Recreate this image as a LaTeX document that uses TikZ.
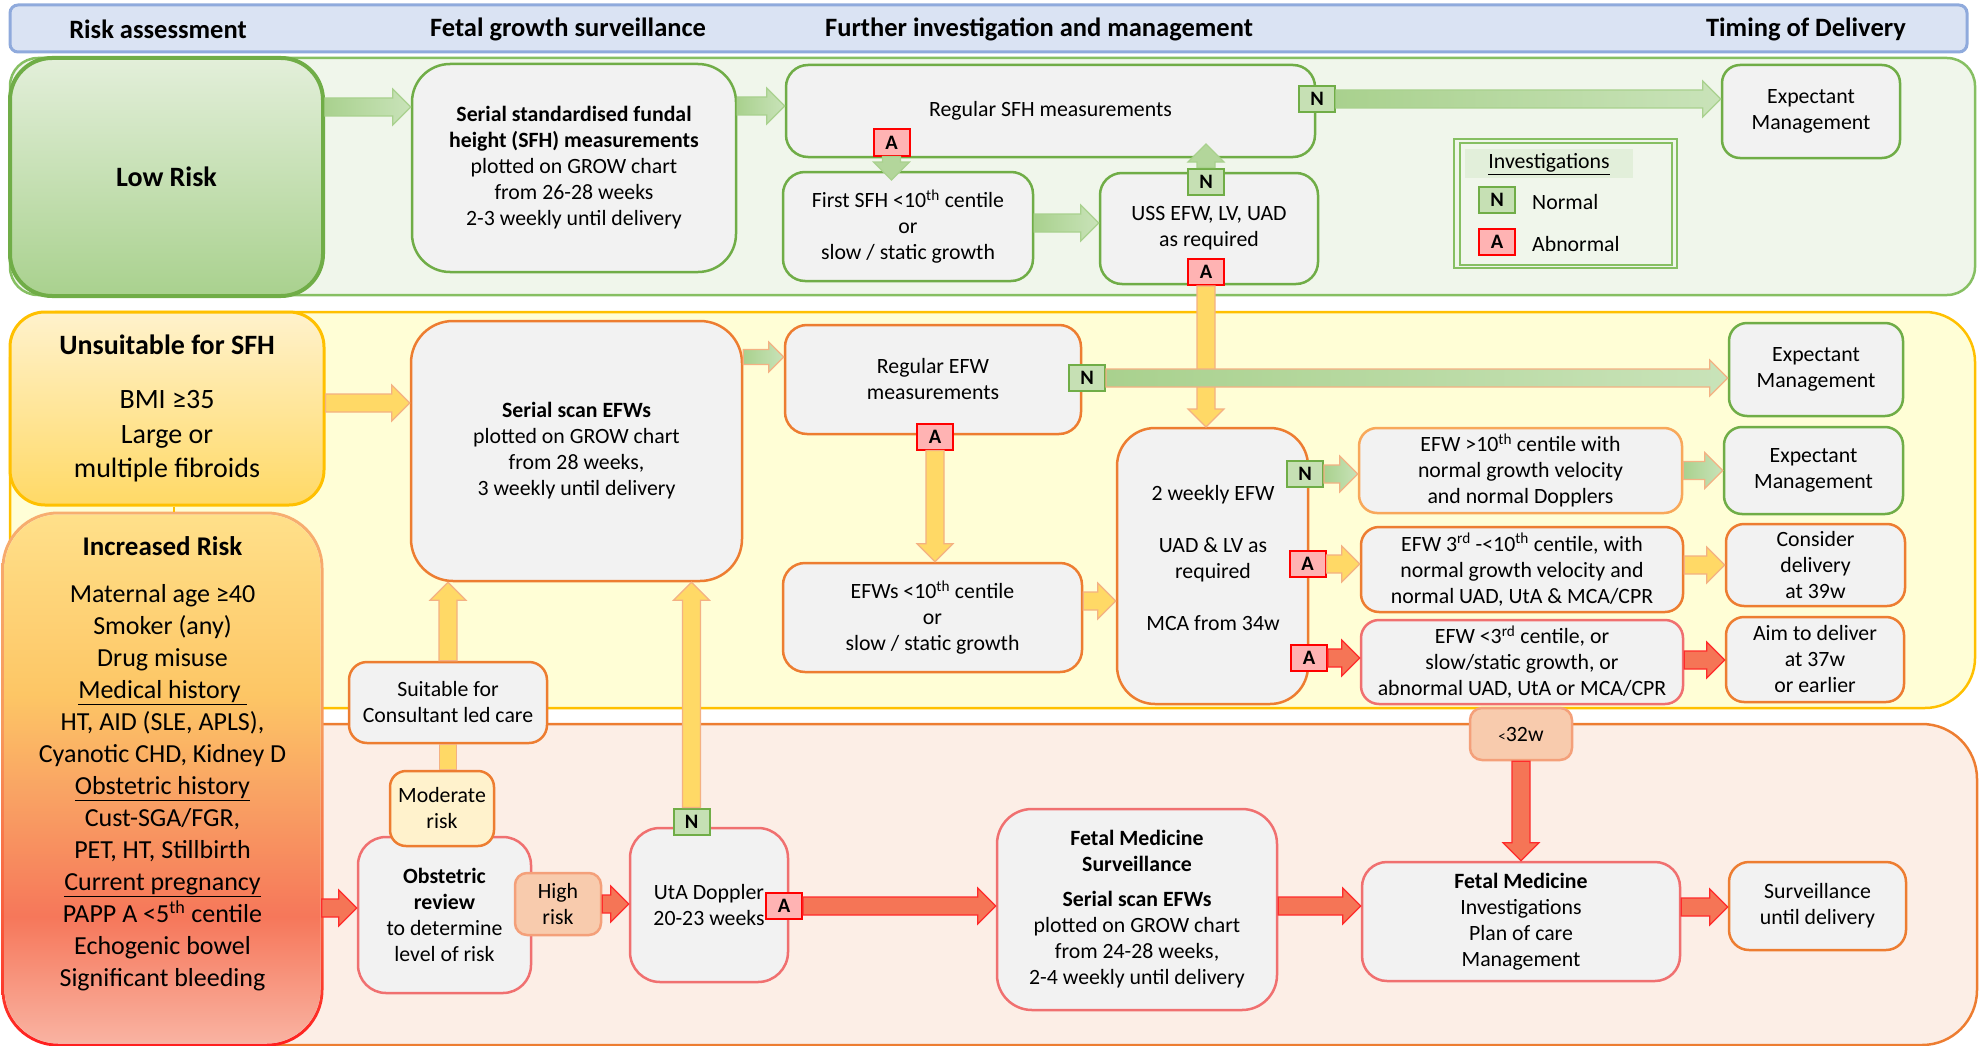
\documentclass[tikz,border=0pt]{standalone}
\usepackage{fontspec}
\setmainfont{Carlito}
\usetikzlibrary{calc}
\newcommand{\myfs}[2]{\fontsize{#1}{#2}\selectfont}
\definecolor{boxfill}{HTML}{F2F2F2}
\definecolor{grn}{HTML}{70AD47}
\definecolor{grnline}{HTML}{86BF62}
\definecolor{grnlt}{HTML}{A9D18E}
\definecolor{grnpale}{HTML}{C9E3B9}
\definecolor{grnband}{HTML}{F0F6EB}
\definecolor{yelband}{HTML}{FFFED6}
\definecolor{gold}{HTML}{FFC000}
\definecolor{orng}{HTML}{ED7D31}
\definecolor{orlt}{HTML}{F4B183}
\definecolor{orlt2}{HTML}{F8A85A}
\definecolor{peach}{HTML}{FCEEE6}
\definecolor{redb}{HTML}{F07070}
\definecolor{hdrfill}{HTML}{DAE3F3}
\definecolor{hdrline}{HTML}{8FAADC}
\definecolor{yarrowc}{HTML}{FFD966}
\definecolor{rarrowc}{HTML}{F57556}
\definecolor{rline}{HTML}{FF2B2B}
\definecolor{badgeNf}{HTML}{C6E0B4}
\definecolor{badgeAf}{HTML}{FFB3B3}
\definecolor{modfill}{HTML}{FFF2CC}
\definecolor{hrfill}{HTML}{F8CBAD}
\definecolor{hrline}{HTML}{F4A07A}
\definecolor{lrtop}{HTML}{E3EFDA}
\definecolor{lrbot}{HTML}{A9D18E}
\definecolor{ustop}{HTML}{FFF2CC}
\definecolor{usbot}{HTML}{FFD966}
\definecolor{legfill}{HTML}{E2EFDA}
\definecolor{irA}{HTML}{F9B3A2}
\definecolor{irB}{HTML}{F6775A}
\definecolor{irC}{HTML}{F9A464}
\definecolor{irD}{HTML}{FDC665}
\definecolor{irE}{HTML}{FFE08A}
\definecolor{bdA}{HTML}{FF1F1F}
\definecolor{bdB}{HTML}{F8603E}
\definecolor{bdC}{HTML}{F79A5C}
\definecolor{bdD}{HTML}{F7AE70}
\pgfdeclareverticalshading{incrshade}{100bp}{color(0bp)=(irA); color(25bp)=(irA); color(37bp)=(irB); color(49bp)=(irC); color(58bp)=(irD); color(75bp)=(irE); color(100bp)=(irE)}
\pgfdeclareverticalshading{incrbd}{100bp}{color(0bp)=(bdA); color(25bp)=(bdA); color(38bp)=(bdB); color(55bp)=(bdC); color(75bp)=(bdD); color(100bp)=(bdD)}
\newcommand{\blockarrow}[4][1]{%
  \path[#2] let \p1=(#3), \p2=(#4), \n1={atan2(\y2-\y1,\x2-\x1)}, \n2={veclen(\x2-\x1,\y2-\y1)} in
  [shift={(\p1)}, rotate=\n1] (0pt,{-9pt*#1}) -- ({\n2*1pt-18pt*#1},{-9pt*#1}) -- ({\n2*1pt-18pt*#1},{-18pt*#1}) -- ({\n2*1pt},0pt) -- ({\n2*1pt-18pt*#1},{18pt*#1}) -- ({\n2*1pt-18pt*#1},{9pt*#1}) -- (0pt,{9pt*#1}) -- cycle;}
\begin{document}
\begin{tikzpicture}[x=1pt,y=-1pt,
  every node/.style={inner sep=2pt, align=center, font=\myfs{21.8}{26}},
  box/.style={draw, fill=boxfill, line width=2.5pt, rounded corners=#1},
  box/.default=20pt,
  sz/.style 2 args={minimum width=#1pt, minimum height=#2pt},
  badgeN/.style={draw=grn, fill=badgeNf, line width=2pt, minimum width=36pt, minimum height=26pt, inner sep=0pt, font=\bfseries\myfs{20.5}{21}},
  badgeA/.style={draw=red, fill=badgeAf, line width=2pt, minimum width=36pt, minimum height=26pt, inner sep=0pt, font=\bfseries\myfs{20.5}{21}},
  hdr/.style={font=\bfseries\myfs{26.5}{30}},
  garrow/.style={left color=grnlt, right color=grnpale, draw=grnlt, line width=1.2pt},
  garrowO/.style={left color=grnlt, right color=grnpale, draw=orlt, line width=1.2pt},
  garrowV/.style={fill=grnlt!70!grnpale, draw=grnlt, line width=1.2pt},
  yarrow/.style={fill=yarrowc, draw=orlt, line width=1.2pt},
  rarrow/.style={fill=rarrowc, draw=rline, line width=1.2pt},
  leg/.style={draw=grnline, line width=1.5pt}
]
\useasboundingbox (0,0) rectangle (1980,1046);
% header
\path[draw=hdrline, fill=hdrfill, line width=3pt, rounded corners=8pt] (10,5) rectangle (1967,52);
\node[hdr] (h1) at (158,29) {Risk assessment};
\node[hdr] (h2) at (568,29) {Fetal growth surveillance};
\node[hdr] (h3) at (1039,29) {Further investigation and management};
\node[hdr] (h4) at (1806,29) {Timing of Delivery};
% bands
\path[draw=grnline, fill=grnband, line width=2.5pt, rounded corners=28pt] (10,58) rectangle (1975,295);
\path[draw=gold, fill=yelband, line width=2.5pt, rounded corners=50pt] (10,312) rectangle (1975,708);
\path[draw=orng, fill=peach, line width=2.5pt, rounded corners=55pt] (10,724) rectangle (1977,1045);

% low risk row
\node[box=42pt, draw=grn, line width=4pt, top color=lrtop, bottom color=lrbot, sz={313}{238}] (lowrisk) at (166.5,177) {\textbf{\myfs{28}{32}Low Risk}};
\node[box=38pt, draw=grn, sz={324}{208}] (sfh) at (574,168) {\textbf{Serial standardised fundal}\\\textbf{height (SFH) measurements}\\plotted on GROW chart\\from 26-28 weeks\\2-3 weekly until delivery};
\node[box=22pt, draw=grn, sz={529}{92}] (regsfh) at (1050.5,111) {Regular SFH measurements};
\node[box=22pt, draw=grn, sz={250}{109}] (firstsfh) at (908,226.5) {First SFH <10\textsuperscript{th} centile\\or\\slow / static growth};
\node[box=22pt, draw=grn, sz={218}{111}] (uss) at (1209,228.5) {USS EFW, LV, UAD\\as required};
\node[box=18pt, draw=grn, sz={178}{93}] (exp1) at (1811,111.5) {Expectant\\Management};
% legend
\draw[leg] (1454,139) rectangle (1677,268);
\draw[leg] (1460,143) rectangle (1672,265);
\path[fill=legfill] (1465,149) rectangle (1633,178);
\node (legtitle) at (1549,164) {\underline{Investigations}};
\node[badgeN] (legN) at (1497,200) {N};
\node[anchor=west] (legNt) at (1530,202) {Normal};
\node[badgeA] (legA) at (1497,242) {A};
\node[anchor=west] (legAt) at (1530,244) {Abnormal};

% middle row
\node[box=35pt, draw=gold, line width=3pt, top color=ustop, bottom color=usbot, sz={314}{193}, font=\myfs{28}{34.5}] (unsuit) at (167,408.5) {\textbf{Unsuitable for SFH}\\[20pt]BMI ≥35\\Large or\\multiple fibroids};
\path[shading=incrbd, rounded corners=56.5pt] (1.5,511.5) rectangle (323.5,1046.5);
\node[box=54pt, draw=none, shading=incrshade, sz={316}{529}] (incr) at (162.5,779) {};
\node[font=\myfs{26}{32}] (incrtext) at (162.5,764) {\textbf{\myfs{27}{32}Increased Risk}\\[15pt]Maternal age ≥40\\Smoker (any)\\Drug misuse\\\underline{Medical history\ }\\HT, AID (SLE, APLS),\\Cyanotic CHD, Kidney D\\\underline{Obstetric history}\\Cust-SGA/FGR,\\PET, HT, Stillbirth\\\underline{Current pregnancy}\\PAPP A <5\textsuperscript{th} centile\\Echogenic bowel\\Significant bleeding};
\draw[gold, line width=2pt] (unsuit.south -| 174,0) -- (174,511.5);

\node[box=42pt, draw=orng, sz={331}{260}] (serial) at (576.5,451) {\textbf{Serial scan EFWs}\\plotted on GROW chart\\from 28 weeks,\\3 weekly until delivery};
\node[box=22pt, draw=orng, sz={296}{109}] (regefw) at (933,379.5) {Regular EFW\\measurements};
\node[box=22pt, draw=orng, sz={299}{109}] (efw10) at (932.5,617.5) {EFWs <10\textsuperscript{th} centile\\or\\slow / static growth};
\node[box=38pt, draw=orng, sz={191}{276}] (twowk) at (1212.5,566) {};
\node (twowktext) at (1213,558) {2 weekly EFW\\[26pt]UAD \& LV as\\required\\[26pt]MCA from 34w};
\node[box=18pt, draw=grn, sz={174}{93}] (exp2) at (1816,369.5) {Expectant\\Management};
\node[box=18pt, draw=orlt2, sz={323}{85}] (r1) at (1520.5,470.5) {EFW >10\textsuperscript{th} centile with\\normal growth velocity\\and normal Dopplers};
\node[box=18pt, draw=orng, sz={322}{85}] (r2) at (1522,569.5) {EFW 3\textsuperscript{rd} -<10\textsuperscript{th} centile, with\\normal growth velocity and\\normal UAD, UtA \& MCA/CPR};
\node[box=18pt, draw=redb, sz={322}{84}] (r3) at (1522,662) {EFW <3\textsuperscript{rd} centile, or\\slow/static growth, or\\abnormal UAD, UtA or MCA/CPR};
\node[box=18pt, draw=grn, sz={179}{87}] (exp3) at (1813.5,470.5) {Expectant\\Management};
\node[box=18pt, draw=orng, sz={179}{82}] (consider) at (1815.5,565) {Consider\\delivery\\at 39w};
\node[box=18pt, draw=orng, sz={178}{85}] (aim) at (1815,659.5) {Aim to deliver\\at 37w\\or earlier};

% bottom row
\node[box=12pt, draw=hrline, fill=hrfill, sz={102}{52}] (lt32) at (1521,734) {{\myfs{15}{15}<}32w};
\node[box=25pt, draw=redb, sz={318}{119}] (fmi) at (1521,921.5) {\textbf{Fetal Medicine}\\Investigations\\Plan of care\\Management};
\node[box=20pt, draw=orng, sz={177}{88}] (surv) at (1817.5,906) {Surveillance\\until delivery};
\node[box=35pt, draw=redb, sz={280}{201}] (fms) at (1137,909.5) {\textbf{Fetal Medicine}\\\textbf{Surveillance}\\[9pt]\textbf{Serial scan EFWs}\\plotted on GROW chart\\from 24-28 weeks,\\2-4 weekly until delivery};
\node[box=30pt, draw=redb, sz={158}{154}] (uta) at (709,905) {UtA Doppler\\20-23 weeks};
\node[box=28pt, draw=redb, sz={173}{156}] (obst) at (444.5,915) {\textbf{Obstetric}\\\textbf{review}\\to determine\\level of risk};
\node[box=16pt, draw=orng, fill=modfill, sz={104}{75}] (modrisk) at (442,808.5) {Moderate\\risk};
\node[box=18pt, draw=orng, sz={198}{81}] (suitable) at (448,702.5) {Suitable for\\Consultant led care};
\node[box=12pt, draw=hrline, fill=hrfill, sz={86}{62}] (highrisk) at (558,904) {High\\risk};

% badges
\node[badgeA] (Aregsfh) at (891.5,142.5) {A};
\node[badgeN] (Nregsfh) at (1317,99) {N};
\node[badgeN] (Nuss) at (1206,181.5) {N};
\node[badgeA] (Auss) at (1206,272) {A};
\node[badgeN] (Nregefw) at (1087,378) {N};
\node[badgeA] (Aregefw) at (935,436.5) {A};
\node[badgeN] (Ntwo) at (1305,474) {N};
\node[badgeA] (Atwo) at (1307.5,564) {A};
\node[badgeA] (Athree) at (1309,658) {A};
\node[badgeN] (Nuta) at (691.5,821.5) {N};
\node[badgeA] (Auta) at (784,906) {A};

% arrows
\blockarrow{garrow}{lowrisk.east |- 0,107}{sfh.west |- 0,107}
\blockarrow{garrow}{sfh.east |- 0,106}{regsfh.west |- 0,106}
\blockarrow{garrowV}{Aregsfh.south}{Aregsfh |- 0,180}
\blockarrow{garrow}{firstsfh.east |- 0,223}{uss.west |- 0,223}
\blockarrow{garrowV}{Nuss.north}{Nuss |- 0,144}
\blockarrow{garrow}{Nregsfh.east}{exp1.west |- Nregsfh}
\blockarrow{yarrow}{Auss.south}{Auss |- 0,427}
\blockarrow{yarrow}{unsuit.east |- 0,403}{serial.west |- 0,403}
\blockarrow[0.83]{garrowO}{serial.east |- 0,357}{regefw.west |- 0,357}
\blockarrow{garrowO}{Nregefw.east}{exp2.west |- Nregefw}
\blockarrow{yarrow}{Aregefw.south}{efw10.north -| Aregefw}
\blockarrow{yarrow}{efw10.east |- 0,601}{twowk.west |- 0,601}
\blockarrow{garrowO}{Ntwo.east}{r1.west |- Ntwo}
\blockarrow{yarrow}{Atwo.east}{r2.west |- Atwo}
\blockarrow{rarrow}{Athree.east}{r3.west |- Athree}
\blockarrow{garrowO}{r1.east}{exp3.west |- r1.east}
\blockarrow{yarrow}{r2.east |- 0,565}{consider.west |- 0,565}
\blockarrow{rarrow}{r3.east |- 0,660}{aim.west |- 0,660}
\blockarrow{rarrow}{lt32.south}{fmi.north -| lt32}
\blockarrow{rarrow}{fmi.east |- 0,907}{surv.west |- 0,907}
\blockarrow{rarrow}{fms.east |- 0,906}{fmi.west |- 0,906}
\blockarrow{rarrow}{Auta.east}{fms.west |- Auta}
\blockarrow{rarrow}{highrisk.east}{uta.west |- highrisk}
\blockarrow{rarrow}{incr.east |- 0,908}{obst.west |- 0,908}
\blockarrow{yarrow}{Nuta.north}{serial.south -| Nuta}
\blockarrow{yarrow}{suitable.north}{serial.south -| suitable.north}
\path[yarrow] ([xshift=-8.5pt]suitable.south) rectangle ([xshift=8.5pt]suitable.south |- modrisk.north);
\end{tikzpicture}
\end{document}
